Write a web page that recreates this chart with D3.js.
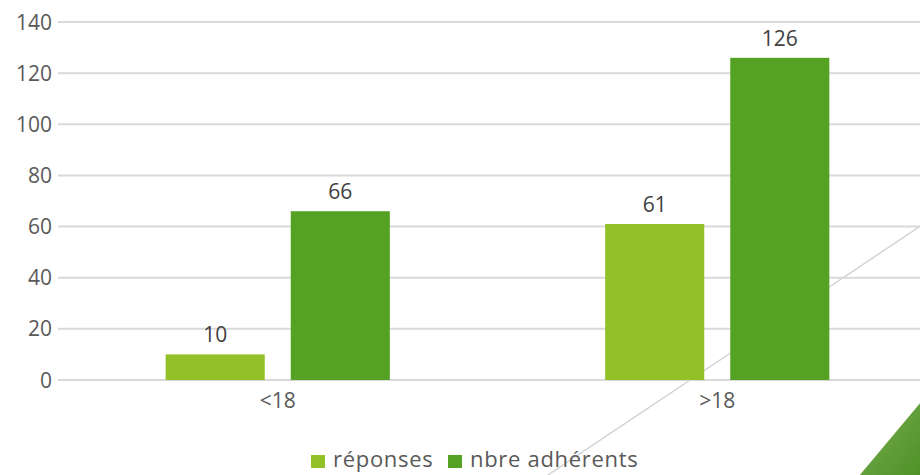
<!DOCTYPE html>
<html>
<head>
<meta charset="utf-8">
<script src="https://cdn.jsdelivr.net/npm/d3@7"></script>
<style>
  body { margin: 0; background: #fff; }
  svg text { font-family: "Open Sans", sans-serif; }
</style>
</head>
<body>
<div id="chart"></div>
<script>
var categories = ["<18", ">18"];
var series = ["réponses", "nbre adhérents"];
var reponses = [10, 61];
var adherents = [66, 126];
var yTicks = [0, 20, 40, 60, 80, 100, 120, 140];

var width = 920,
    height = 475;

var color = ["#92c027", "#55a123"];

var data = categories.map(function (c, i) {
    return { cat: c, values: [reponses[i], adherents[i]] };
});

var svg = d3.select("#chart").append("svg")
    .attr("width", width)
    .attr("height", height);

var defs = svg.append("defs");
var grad = defs.append("linearGradient")
    .attr("id", "tri")
    .attr("x1", "0%").attr("y1", "0%")
    .attr("x2", "100%").attr("y2", "100%");
grad.append("stop").attr("offset", "0%").attr("stop-color", "#78ad50");
grad.append("stop").attr("offset", "100%").attr("stop-color", "#4f9127");

var x0 = d3.scaleBand()
    .domain(categories)
    .range([58, 937])
    .paddingInner(0.49)
    .paddingOuter(0.245);

var x1 = d3.scaleBand()
    .domain(series)
    .range([0, x0.bandwidth()])
    .paddingInner(0.208);

var y = d3.scaleLinear()
    .domain([0, 140])
    .range([380, 22]);

// decorative diagonal line behind the chart
svg.append("line")
    .attr("x1", 545).attr("y1", 477)
    .attr("x2", 922).attr("y2", 225)
    .attr("stroke", "#d4d4d4")
    .attr("stroke-width", 1.5);

// gridlines
svg.append("g")
    .selectAll("line")
    .data(yTicks)
    .enter().append("line")
    .attr("x1", 58)
    .attr("x2", width)
    .attr("y1", function (d) { return y(d); })
    .attr("y2", function (d) { return y(d); })
    .attr("stroke", "#d9d9d9")
    .attr("stroke-width", 2);

// y tick labels
svg.append("g")
    .selectAll("text")
    .data(yTicks)
    .enter().append("text")
    .attr("x", 52)
    .attr("y", function (d) { return y(d); })
    .attr("dy", "0.36em")
    .attr("text-anchor", "end")
    .attr("fill", "#595959")
    .style("font-size", "21px")
    .text(function (d) { return d; });

// bars
var groups = svg.append("g")
    .selectAll("g")
    .data(data)
    .enter().append("g")
    .attr("transform", function (d) { return "translate(" + x0(d.cat) + ",0)"; });

groups.selectAll("rect")
    .data(function (d) { return d.values.map(function (v, i) { return { s: series[i], v: v, i: i }; }); })
    .enter().append("rect")
    .attr("x", function (d) { return x1(d.s); })
    .attr("y", function (d) { return y(d.v); })
    .attr("width", x1.bandwidth())
    .attr("height", function (d) { return y(0) - y(d.v); })
    .attr("fill", function (d) { return color[d.i]; });

groups.selectAll("text")
    .data(function (d) { return d.values.map(function (v, i) { return { s: series[i], v: v }; }); })
    .enter().append("text")
    .attr("x", function (d) { return x1(d.s) + x1.bandwidth() / 2; })
    .attr("y", function (d) { return y(d.v) - 12; })
    .attr("text-anchor", "middle")
    .attr("fill", "#404040")
    .style("font-size", "21px")
    .text(function (d) { return d.v; });

// category labels
svg.append("g")
    .selectAll("text")
    .data(categories)
    .enter().append("text")
    .attr("x", function (d) { return x0(d) + x0.bandwidth() / 2; })
    .attr("y", 408)
    .attr("text-anchor", "middle")
    .attr("fill", "#595959")
    .style("font-size", "21px")
    .text(function (d) { return d; });

// corner triangle
svg.append("path")
    .attr("d", "M859,476 L921,402 L921,476 Z")
    .attr("fill", "url(#tri)");

// legend
function legend(x, text, c) {
    svg.append("rect")
        .attr("x", x)
        .attr("y", 455)
        .attr("width", 14)
        .attr("height", 13)
        .attr("fill", c);
    svg.append("text")
        .attr("x", x + 22)
        .attr("y", 467)
        .attr("fill", "#595959")
        .style("font-size", "22px")
        .style("letter-spacing", "0.7px")
        .text(text);
}
legend(311, series[0], color[0]);
legend(448, series[1], color[1]);
</script>
</body>
</html>
